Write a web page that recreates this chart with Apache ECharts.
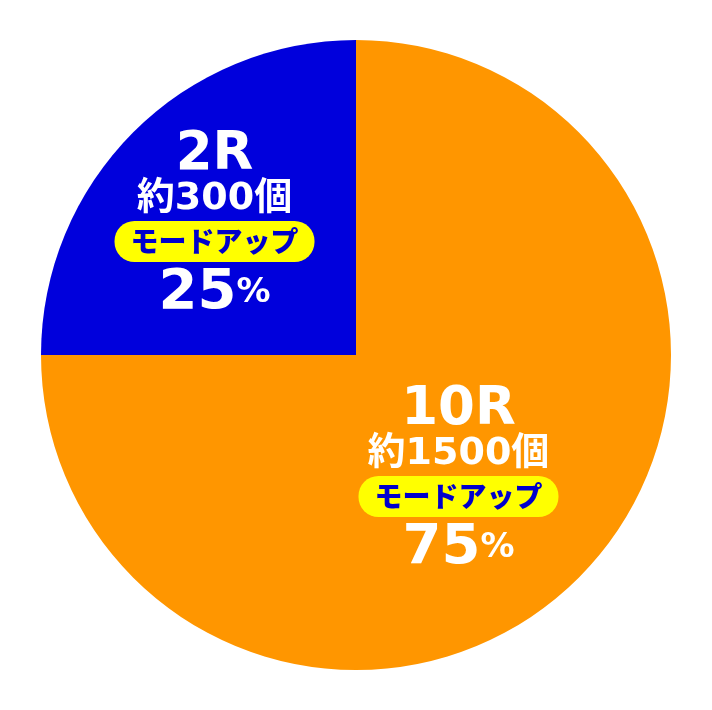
<!DOCTYPE html>
<html>
<head>
<meta charset="utf-8">
<script src="https://cdn.jsdelivr.net/npm/echarts@6/dist/echarts.min.js"></script>
<style>
html,body{margin:0;padding:0;background:#fff;}
#chart{width:712px;height:710px;}
</style>
</head>
<body>
<div id="chart"></div>
<script>
var categories = ['10R', '2R'];
var counts = ['約1500個', '約300個'];
var badges = ['モードアップ', 'モードアップ'];
var values = [75, 25];

var colors = ['#FF9600', '#0000DC'];
var offsets = [[-11, 15], [-28, -13]];

var chart = echarts.init(document.getElementById('chart'));
var latin = "'DejaVu Sans', 'Noto Sans CJK JP', sans-serif";
var cjk = "'Noto Sans CJK JP', sans-serif";

var data = values.map(function (v, i) {
  return {
    name: categories[i],
    value: v,
    itemStyle: { color: colors[i] },
    label: { offset: offsets[i] }
  };
});

chart.setOption({
  animation: false,
  series: [{
    type: 'pie',
    center: ['50%', '50%'],
    radius: [0, 315],
    startAngle: 90,
    clockwise: true,
    data: data,
    itemStyle: { borderWidth: 0 },
    labelLine: { show: false },
    label: {
      show: true,
      position: 'inside',
      color: '#fff',
      formatter: function (p) {
        var i = p.dataIndex;
        return '{r|' + categories[i] + '}\n{n|' + counts[i] + '}\n{b|' + badges[i] + '}\n{p|' + values[i] + '}{pc|%}';
      },
      rich: {
        r: { fontFamily: latin, fontWeight: 'bold', fontSize: 53, lineHeight: 44, color: '#fff' },
        n: { fontFamily: latin, fontWeight: 'bold', fontSize: 38, lineHeight: 44, color: '#fff' },
        b: { fontFamily: cjk, fontWeight: 900, fontSize: 28, color: '#0000CC', backgroundColor: '#FFFF00', borderRadius: 20, height: 41, lineHeight: 41, padding: [0, 16] },
        p: { fontFamily: latin, fontWeight: 'bold', fontSize: 56, lineHeight: 62, color: '#fff' },
        pc: { fontFamily: latin, fontWeight: 'bold', fontSize: 34, lineHeight: 62, color: '#fff' }
      }
    }
  }]
});
</script>
</body>
</html>
